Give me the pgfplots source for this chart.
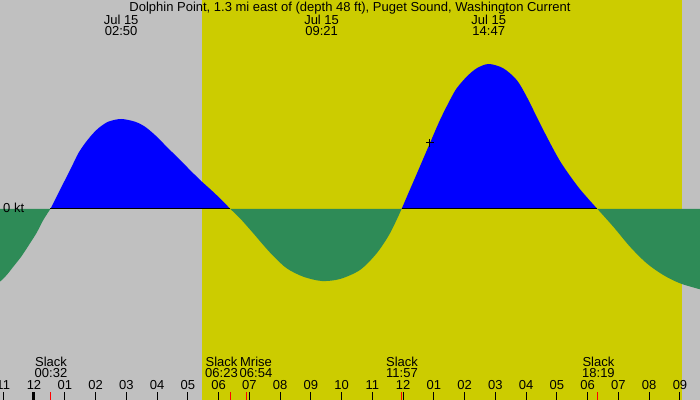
\documentclass[border=0pt]{standalone}
\usepackage{pgfplots}
\pgfplotsset{compat=1.18}
\usepackage{fontspec}
\setmainfont{Liberation Sans}
\definecolor{bggray}{RGB}{192,192,192}
\definecolor{dayyel}{RGB}{204,204,0}
\definecolor{ebbgreen}{RGB}{46,139,87}
\begin{document}
\fontsize{13bp}{15bp}\selectfont
\begin{tikzpicture}[font=\fontsize{13bp}{15bp}\selectfont]
\useasboundingbox (0,0) rectangle (700bp,400bp);
\begin{axis}[
  at={(0,0)}, anchor=south west,
  scale only axis, width=700bp, height=400bp,
  xmin=-1.1053, xmax=21.651, ymin=-1.91, ymax=2.09,
  axis background/.style={fill=bggray},
  axis on top,
  separate axis lines,
  axis line style={draw=none},
  ytick=\empty,
  xtick={-1,0,...,21},
  xticklabels={11,12,01,02,03,04,05,06,07,08,09,10,11,12,01,02,03,04,05,06,07,08,09},
  xtick pos=left,
  tick align=inside,
  major tick length=8bp,
  tick style={black, line width=1bp},
  xticklabel style={anchor=base, yshift=11bp, inner sep=0pt, font=\fontsize{13bp}{15bp}\selectfont},
  extra x ticks={0.533,6.383,6.9,11.95,18.317},
  extra x tick labels={},
  extra x tick style={tick style={red, line width=1bp}},
]
% daylight
\addplot[fill=dayyel, draw=none] coordinates {(5.461,-1.91) (5.461,2.09) (21.065,2.09) (21.065,-1.91)} -- cycle;
% ebb 0
\addplot[fill=ebbgreen, draw=none, smooth] coordinates {(-1.105,-0.727) (-0.887,-0.66) (-0.673,-0.577) (-0.400,-0.47) (-0.130,-0.343) (0.088,-0.237) (0.302,-0.11) (0.533,0)} \closedcycle;
% flood 1
\addplot[fill=blue, draw=none, smooth] coordinates {(0.533,0) (0.790,0.157) (1.008,0.29) (1.226,0.423) (1.440,0.557) (1.658,0.657) (1.876,0.74) (2.090,0.807) (2.415,0.873) (2.833,0.90) (3.283,0.873) (3.608,0.823) (3.933,0.74) (4.258,0.64) (4.584,0.54) (4.909,0.44) (5.234,0.34) (5.452,0.275) (5.777,0.185) (6.102,0.09) (6.383,0)} \closedcycle;
% ebb 2
\addplot[fill=ebbgreen, draw=none, smooth] coordinates {(6.383,0) (6.697,-0.093) (7.129,-0.243) (7.454,-0.36) (7.779,-0.47) (8.215,-0.593) (8.754,-0.677) (9.353,-0.72) (9.947,-0.70) (10.597,-0.61) (11.140,-0.443) (11.573,-0.243) (11.95,0)} \closedcycle;
% flood 2
\addplot[fill=blue, draw=none, smooth] coordinates {(11.95,0) (12.19,0.172) (12.441,0.35) (12.873,0.66) (13.198,0.89) (13.523,1.09) (13.741,1.207) (14.066,1.323) (14.391,1.407) (14.783,1.45) (15.256,1.407) (15.692,1.29) (16.017,1.123) (16.557,0.79) (17.099,0.48) (17.642,0.24) (18.009,0.105) (18.317,0)} \closedcycle;
% ebb 3
\addplot[fill=ebbgreen, draw=none, smooth] coordinates {(18.317,0) (18.832,-0.177) (19.375,-0.377) (19.918,-0.543) (20.457,-0.66) (21.0,-0.743) (21.651,-0.803)} \closedcycle;
% zero line under flood
\addplot[black, line width=1bp] coordinates {(0.533,0) (6.383,0)};
\addplot[black, line width=1bp] coordinates {(11.95,0) (18.317,0)};
% midnight tick
\addplot[black, line width=3bp] coordinates {(0,-1.91) (0,-1.83)};
% current time marker
\addplot[only marks, mark=+, mark size=4bp, black, line width=1bp] coordinates {(12.873,0.66)};
% texts
\node[anchor=base, inner sep=0pt] at (axis cs:10.272,1.977) {Dolphin Point, 1.3 mi east of (depth 48 ft), Puget Sound, Washington Current};
\node[anchor=base, inner sep=0pt] at (axis cs:2.833,1.847) {Jul 15};
\node[anchor=base, inner sep=0pt] at (axis cs:2.833,1.737) {02:50};
\node[anchor=base, inner sep=0pt] at (axis cs:9.35,1.847) {Jul 15};
\node[anchor=base, inner sep=0pt] at (axis cs:9.35,1.737) {09:21};
\node[anchor=base, inner sep=0pt] at (axis cs:14.783,1.847) {Jul 15};
\node[anchor=base, inner sep=0pt] at (axis cs:14.783,1.737) {14:47};
\node[anchor=base west, inner sep=0pt] at (axis cs:-1.008,-0.033) {0 kt};
\node[anchor=base, inner sep=0pt] at (axis cs:0.553,-1.57) {Slack};
\node[anchor=base, inner sep=0pt] at (axis cs:0.553,-1.683) {00:32};
\node[anchor=base, inner sep=0pt] at (axis cs:6.095,-1.57) {Slack};
\node[anchor=base, inner sep=0pt] at (axis cs:6.095,-1.683) {06:23};
\node[anchor=base, inner sep=0pt] at (axis cs:7.217,-1.57) {Mrise};
\node[anchor=base, inner sep=0pt] at (axis cs:7.217,-1.683) {06:54};
\node[anchor=base, inner sep=0pt] at (axis cs:11.963,-1.57) {Slack};
\node[anchor=base, inner sep=0pt] at (axis cs:11.963,-1.683) {11:57};
\node[anchor=base, inner sep=0pt] at (axis cs:18.35,-1.57) {Slack};
\node[anchor=base, inner sep=0pt] at (axis cs:18.35,-1.683) {18:19};
\end{axis}
\end{tikzpicture}
\end{document}
